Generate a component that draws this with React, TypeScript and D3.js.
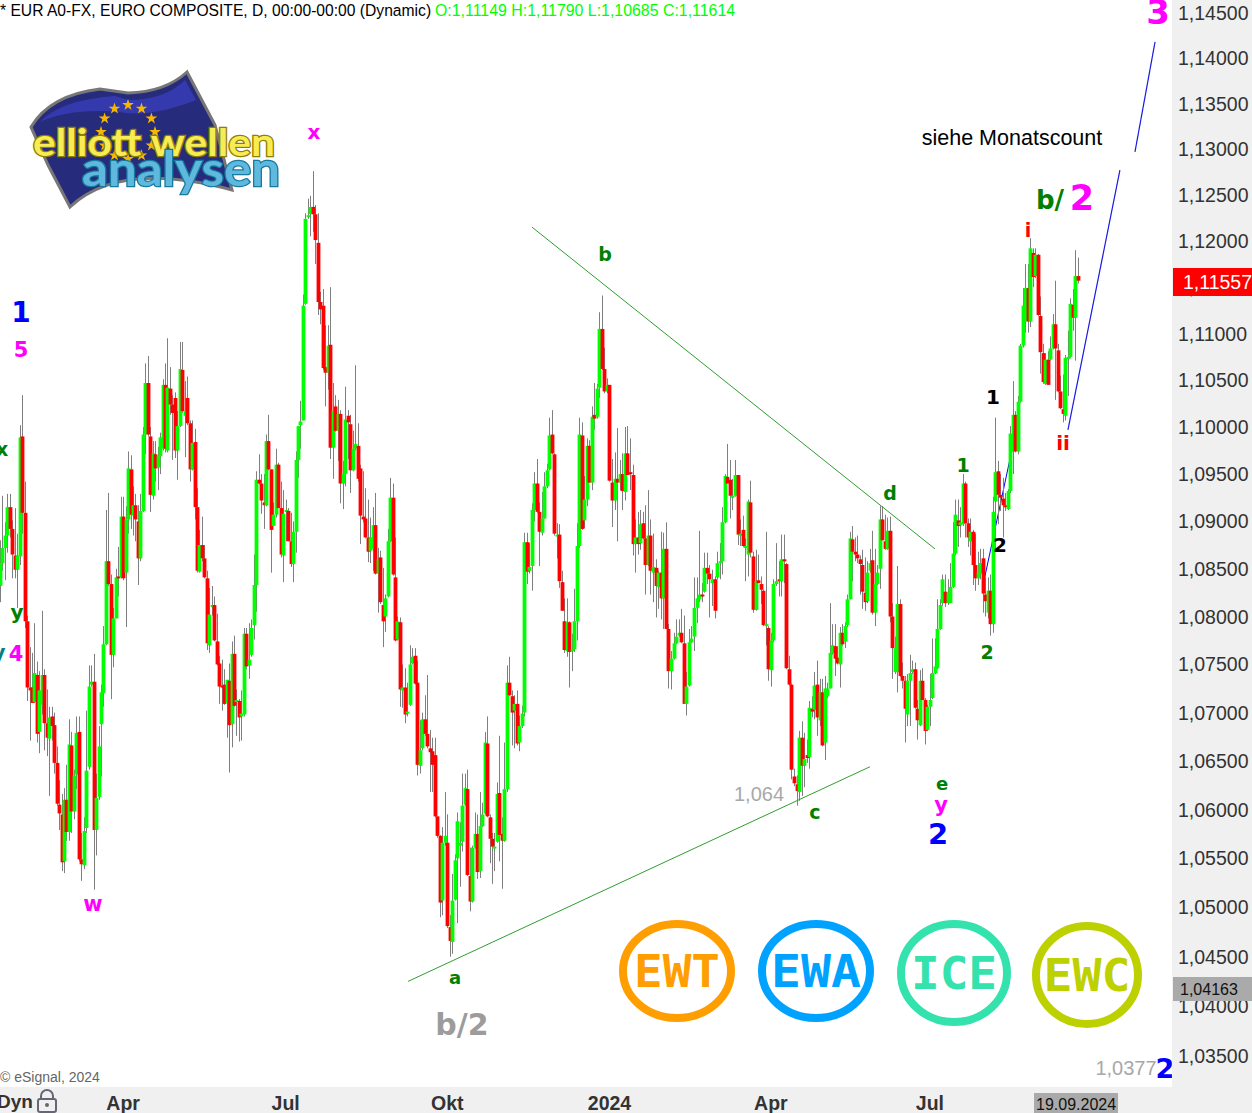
import React from "react";
import * as d3 from "d3";

// Daily EUR/USD candles, prices in 1/10000 units
const opens = [
10832,10856,10872,10885,10915,10892,10864,10849,10863,10990,10909,10795,10726,10726,10711,10739,10680,10708,10739,10689,
10673,10696,10687,10648,10605,10595,10547,10610,10577,10666,10598,10636,10680,10549,10543,10581,10644,10729,10732,10579,
10613,10688,10720,10771,10858,10834,10760,10798,10842,10841,10905,10846,10902,10955,10906,10917,10900,10861,10911,10992,
11047,10990,10927,10971,10957,10969,10977,11045,10975,11041,11024,11031,10975,11001,11061,11012,11031,11004,10955,10984,
10915,10847,10875,10861,10840,10770,10811,10812,10774,10751,10728,10729,10710,10733,10688,10761,10711,10712,10696,10698,
10782,10749,10760,10791,10833,10944,10940,10920,10917,10985,10955,10895,10907,10960,10914,10864,10911,10911,10879,10855,
10889,10965,
11002,11007,11132,11226,11229,11237,11229,11198,11134,11130,
11064,11058,11088,10978,11022,10996,11014,10940,10950,11012,
11003,10954,10977,10980,10956,10905,10903,10883,10869,10871,
10896,10845,10862,10812,10800,10821,10879,10925,10841,10776,
10794,10723,10726,10699,10708,10751,10759,10731,10645,10663,
10693,10678,10663,10660,10656,10593,10573,10507,10566,10566,
10480,10465,10508,10550,10563,10567,10605,10621,10532,10506,
10561,10575,10537,10583,10596,10668,10592,10570,10561,10567,
10617,10575,10568,10621,10731,10717,10702,10709,10669,10686,
10700,10878,10848,10853,10912,10940,10910,10888,10903,10937,
10955,10992,10971,10884,10886,10836,10795,10764,10794,10764,
10766,10795,10874,10991,10901,10923,10980,
10941,11013,11011,11042,11105,11062,11038,11045,10941,10922,
10945,10941,10950,10931,10972,10952,10949,10876,10883,10877,
10898,10882,10854,10885,10846,10851,10831,10846,10819,10871,
10787,10743,10756,10772,10780,10783,10772,10709,10728,10773,
10779,10809,10818,10823,10826,10851,10845,10835,10839,10841,
10856,10858,10899,10947,10944,10925,10927,10949,10886,10891,
10872,10865,10920,10863,10807,10838,10834,10827,10790,10788,
10744,10775,10834,10839,10837,10860,10855,10745,10729,10634,
10626,10618,10674,10645,10656,10654,10704,10703,10729,
10692,10721,10669,10717,10725,10762,10769,10757,10750,10783,
10774,10791,10818,10881,10868,10865,10860,10854,10825,10816,
10848,10859,10804,10834,10850,10902,10879,10871,10890,10800,
10742,10742,10813,10738,10733,10698,10733,10742,10745,10704,
10687,10733,10713,10682,10706,10715,10741,10746,10787,10814,
10826,10814,10814,10831,10866,10901,10896,10897,10940,10898,
10879,10889,10854,10840,10845,10861,10823,10804,10827,10792,
10921,10953,10928,10924,10917,10913,10932,10974,11013,10974,
11027,11087,11113,11149,11113,11187,11162,11185,11119,11079,
11046,11072,11072,11084,11110,11082,11038,11019,11012,11074,
11075,11131,11117,11162];

const highs = [
10880,10927,10899,10929,10929,10901,10914,10887,11002,11034,10942,10801,10768,10762,10793,10753,10743,10806,10745,10724,
10706,10706,10700,10665,10630,10616,10622,10646,10693,10680,10641,10696,10696,10576,10592,10702,10749,10749,10761,10637,
10686,10729,10790,10912,10930,10844,10809,10850,10873,10926,10926,10916,10974,10970,10937,10929,10917,10929,11000,11068,
11076,11000,10985,10985,10979,10994,11051,11068,11095,11064,11034,11037,11017,11091,11091,11049,11054,11007,11007,10998,
10935,10891,10905,10875,10848,10830,10832,10821,10803,10759,10755,10745,10734,10751,10774,10780,10724,10714,10723,10788,
10788,10793,10797,10865,10953,10971,10950,10950,10992,11013,10955,10920,10977,10962,10942,10933,10923,10914,10909,10900,
10974,11001,
11028,11142,11230,11246,11249,11276,11239,11230,11145,11148,
11109,11109,11150,11047,11034,11029,11018,10964,11043,11018,
11013,10996,11066,11004,10960,10953,10935,10923,10904,10915,
10930,10872,10869,10851,10823,10892,10946,10940,10883,10800,
10799,10750,10746,10731,10770,10767,10767,10754,10692,10700,
10718,10739,10682,10674,10674,10593,10574,10582,10618,10595,
10492,10534,10554,10597,10587,10637,10637,10641,10561,10563,
10597,10595,10618,10607,10680,10696,10595,10576,10576,10628,
10676,10592,10669,10749,10758,10723,10718,10723,10697,10707,
10888,10888,10877,10919,10952,10966,10920,10931,10952,10961,
11010,11018,10972,10898,10897,10848,10819,10819,10795,10782,
10829,10898,11010,11005,10948,10988,10986,
11022,11047,11046,11123,11141,11085,11052,11045,10966,10973,
10999,10965,10972,11000,11001,10988,10960,10902,10910,10912,
10910,10917,10933,10902,10887,10860,10848,10889,10888,10899,
10792,10764,10783,10797,10797,10808,10801,10742,10787,10790,
10841,10841,10890,10835,10867,10867,10854,10849,10842,10868,
10877,10915,10950,10982,10965,10945,10965,10949,10902,10906,
10882,10923,10943,10868,10870,10865,10842,10828,10889,10790,
10783,10839,10877,10858,10886,10886,10856,10759,10730,10642,
10635,10681,10691,10679,10672,10712,10717,10742,10754,
10735,10735,10738,10731,10814,10792,10792,10769,10789,10792,
10794,10823,10889,10895,10883,10885,10864,10870,10862,10858,
10871,10890,10871,10854,10916,10916,10907,10904,10905,10814,
10779,10853,10818,10752,10738,10740,10760,10754,10752,10713,
10744,10746,10715,10708,10740,10777,10777,10818,10818,10844,
10844,10839,10856,10899,10923,10923,10915,10950,10942,10903,
10903,10891,10887,10868,10871,10871,10841,10841,10844,10926,
11010,10964,10950,10946,10930,10934,11001,11049,11017,11033,
11089,11149,11175,11175,11203,11192,11192,11186,11140,11089,
11079,11081,11097,11121,11157,11089,11055,11056,11077,11103,
11138,11148,11190,11182];

const lows = [
10815,10848,10838,10867,10883,10840,10840,10809,10854,10887,10788,10712,10671,10710,10710,10669,10658,10698,10661,10655,
10614,10671,10637,10604,10579,10537,10535,10568,10568,10576,10590,10621,10547,10527,10539,10576,10641,10727,10518,10553,
10610,10634,10706,10770,10832,10714,10747,10798,10821,10840,10838,10789,10887,10892,10885,10879,10833,10858,10910,10971,
10990,10910,10923,10942,10933,10950,10975,10973,10973,11013,10965,10967,10944,11000,11015,10968,11002,10942,10954,10902,
10846,10846,10858,10840,10765,10762,10801,10774,10749,10709,10702,10708,10674,10638,10664,10706,10676,10670,10671,10696,
10745,10735,10758,10776,10805,10939,10908,10892,10916,10954,10846,10895,10904,10914,10862,10836,10879,10879,10852,10836,
10867,10946,
10977,11007,11131,11224,11205,11210,11175,11120,11110,11061,
11022,11040,10966,10945,10995,10964,10919,10913,10937,10966,
10930,10953,10975,10942,10876,10899,10882,10857,10856,10848,
10844,10804,10813,10768,10784,10820,10878,10843,10774,10775,
10706,10705,10689,10696,10707,10750,10729,10635,10637,10661,
10676,10663,10618,10618,10592,10571,10490,10492,10563,10479,
10450,10453,10507,10484,10521,10557,10604,10532,10496,10505,
10560,10529,10530,10582,10595,10592,10545,10524,10537,10566,
10547,10519,10567,10618,10717,10666,10663,10666,10660,10684,
10696,10834,10845,10827,10900,10909,10853,10885,10903,10935,
10954,10971,10885,10861,10830,10806,10762,10758,10726,10743,
10763,10775,10872,10891,10893,10916,10941,
10933,10997,11009,11031,11061,11036,11036,10942,10894,10912,
10879,10933,10912,10922,10949,10933,10864,10846,10865,10870,
10881,10823,10853,10823,10815,10799,10808,10797,10787,10787,
10725,10724,10755,10771,10779,10772,10709,10697,10727,10772,
10764,10793,10815,10815,10825,10834,10799,10811,10798,10839,
10839,10844,10898,10940,10903,10912,10926,10875,10874,10873,
10837,10842,10862,10804,10806,10835,10813,10790,10770,10733,
10727,10773,10832,10821,10821,10835,10745,10728,10631,10624,
10604,10609,10614,10623,10648,10642,10695,10693,10676,
10686,10665,10651,10715,10725,10760,10738,10750,10726,10769,
10767,10789,10818,10837,10858,10856,10823,10808,10806,10814,
10846,10802,10790,10833,10829,10880,10870,10870,10794,10735,
10740,10721,10737,10725,10669,10686,10686,10740,10704,10672,
10686,10713,10667,10681,10686,10714,10740,10745,10786,10811,
10810,10812,10814,10830,10864,10873,10883,10895,10883,10873,
10864,10833,10827,10833,10839,10804,10800,10798,10780,10783,
10871,10897,10911,10883,10911,10912,10930,10950,10973,10971,
11026,11085,11101,11101,11107,11150,11160,11119,11057,11046,
11045,11045,11071,11083,11029,11037,11019,11005,11007,11033,
11074,11103,11071,11154];

const closes = [
10856,10872,10885,10915,10892,10865,10849,10864,10989,10909,10795,10726,10723,10710,10741,10678,10723,10739,10689,10674,
10695,10686,10648,10606,10596,10546,10610,10577,10667,10598,10635,10679,10549,10544,10578,10640,10727,10732,10579,10612,
10665,10721,10771,10858,10834,10760,10798,10841,10840,10905,10840,10902,10956,10907,10917,10902,10861,10911,10992,11047,
10992,10928,10972,10956,10969,10989,11045,10977,11042,11024,11015,10975,11001,11062,11017,11017,11004,10955,10983,10915,
10848,10875,10861,10841,10772,10802,10812,10775,10750,10727,10726,10709,10734,10687,10761,10707,10713,10695,10699,10782,
10748,10755,10788,10833,10944,10940,10922,10917,10985,10955,10891,10907,10960,10914,10865,10908,10912,10879,10855,10889,
10965,11001,
11006,11130,11224,11228,11237,11229,11201,11134,11126,11063,
11058,11087,10978,11017,10996,11014,10940,10950,11008,11005,
10954,10977,10982,10945,10906,10902,10883,10868,10883,10896,
10845,10860,10815,10795,10819,10879,10925,10844,10775,10795,
10724,10726,10698,10701,10750,10758,10730,10646,10661,10693,
10678,10665,10659,10646,10593,10573,10505,10566,10573,10481,
10466,10507,10548,10588,10566,10604,10622,10533,10506,10561,
10575,10536,10583,10595,10669,10593,10570,10562,10562,10616,
10574,10568,10621,10731,10718,10700,10709,10668,10686,10699,
10878,10847,10852,10912,10940,10910,10889,10903,10937,10954,
10991,10972,10887,10886,10837,10806,10765,10794,10763,10766,
10795,10874,10992,10892,10923,10980,10941,
11011,11009,11041,11105,11062,11038,11045,10943,10922,10945,
10941,10950,10932,10972,10949,10950,10876,10883,10876,10897,
10882,10854,10885,10848,10852,10832,10846,10819,10871,10787,
10743,10756,10772,10779,10783,10773,10709,10727,10773,10777,
10809,10819,10823,10821,10851,10845,10839,10839,10806,10856,
10858,10899,10948,10940,10927,10927,10949,10886,10887,10874,
10874,10921,10867,10807,10837,10835,10828,10791,10792,10745,
10775,10834,10837,10837,10860,10858,10746,10729,10641,10627,
10619,10674,10645,10652,10653,10705,10701,10728,10695,
10721,10666,10725,10725,10762,10770,10756,10751,10783,10771,
10790,10818,10882,10868,10865,10861,10855,10826,10815,10846,
10856,10804,10834,10846,10902,10880,10871,10890,10800,10767,
10767,10813,10738,10733,10704,10733,10741,10745,10705,10692,
10733,10713,10681,10706,10713,10741,10748,10787,10812,10839,
10814,10825,10831,10866,10907,10895,10899,10940,10898,10883,
10889,10854,10840,10846,10856,10824,10816,10827,10792,10910,
10952,10928,10925,10917,10915,10932,10993,11013,10974,11027,
11087,11130,11149,11113,11192,11161,11185,11120,11080,11048,
11072,11045,11084,11110,11084,11038,11020,11014,11074,11075,
11132,11117,11162,11157];

// Price axis
const priceTicks = [1.035,1.04,1.045,1.05,1.055,1.06,1.065,1.07,1.075,1.08,1.085,1.09,1.095,1.1,1.105,1.11,1.115,1.12,1.125,1.13,1.135,1.14,1.145];
const monthLabels = ["Apr","Jul","Okt","2024","Apr","Jul"];
const monthBars = [50,116,181,246,309,372];

// Trend lines: [bar index, price]
const upperTriangleBars = [215.1,374];
const upperTrianglePrices = [1.1215,1.0871];
const lowerTriangleBars = [165.2,348.1];
const lowerTrianglePrices = [1.0425,1.0644];
const impulseBars = [393.5,407.5];
const impulsePrices = [1.0837,1.1011];
const forecastBarsA = [427,447.7];
const forecastPricesA = [1.0997,1.1277];
const forecastBarsB = [453.7,461.7];
const forecastPricesB = [1.1297,1.1418];

const W = 1252, H = 1113, PX = 1172, PY = 1087;
const y = d3.scaleLog().domain([1.035,1.145]).range([1056,13]);
const x = d3.scaleLinear().domain([0,121,238,327,431]).range([0,298,589,817,1078]);
const fmt = (v: number) => v.toFixed(5).replace(".", ",");
const SANS = "'Liberation Sans', Arial, sans-serif";
const BOLD = "'DejaVu Sans', Verdana, sans-serif";
const MONO = "'DejaVu Sans Mono', monospace";

type Lbl = [string, number, number, number, string];
const waveLabels: Lbl[] = [
  ["x",314,132,20,"#ff00ff"],["1",21,312,28,"#0000ff"],["5",21,350,21,"#ff00ff"],
  ["x",2,449,19,"#008000"],["y",17,612,20,"#008000"],["y",-1,652,20,"#008080"],["4",16,654,21,"#ff00ff"],
  ["w",93,904,21,"#ff00ff"],["a",455,977,18,"#008000"],["b",605,254,19,"#008000"],["c",815,812,19,"#008000"],
  ["d",890,493,19,"#008000"],["e",942,783,18,"#008000"],["y",941,805,21,"#ff00ff"],["2",938,834,29,"#0000ff"],
  ["1",963,465,19,"#008000"],["2",987,652,19,"#008000"],["1",993,397,20,"#000000"],["2",1000,545,20,"#000000"],
  ["i",1028,230,19,"#ff0000"],["ii",1063,443,20,"#ff0000"],["2",1082,198,35,"#ff00ff"],["3",1158,12,34,"#ff00ff"],
  ["2",1165,1068,27,"#0000ff"],
];
type Ring = [string, string, number, number, number, number, number];
const rings: Ring[] = [
  ["EWT","#ff9e00",677,971,54,47,86],["EWA","#00a2ff",816,971,54,47,90],
  ["ICE","#34e2ae",954,973,53,49,86],["EWC","#bdd000",1087,975,51,49,87],
];
const starAngles = d3.range(12).map(i => (i * Math.PI) / 6);

function line(bars: number[], prices: number[]) {
  return d3.line<number>().x((b) => x(b)).y((_, i) => y(prices[i]))(bars) as string;
}

function Logo() {
  const star = d3.symbol(d3.symbolStar, 42)() as string;
  return (
    <g>
      <path d="M31 127 Q50 95 100 89 L128 93 Q165 92 187 72 L215 125 L232 190 Q120 160 70 207 L48 165 Z" fill="#272b7c" stroke="#777" strokeWidth={3} />
      <path d="M40 122 Q60 100 115 96 L128 100 Q165 100 185 80 L196 100 Q150 118 120 112 Q70 108 40 122 Z" fill="#3a3fbe" opacity={0.75} />
      {starAngles.map((a, i) => (
        <path key={i} d={star} fill="#f5b800" transform={`translate(${128 + 27 * Math.cos(a)},${132 + 27 * Math.sin(a)})`} />
      ))}
      <text x={33} y={156} fontFamily="Lato, sans-serif" fontWeight={700} fontSize={38} textLength={242} lengthAdjust="spacingAndGlyphs"
        fill="#f7ec55" stroke="#8f8000" strokeWidth={2.5} paintOrder="stroke">elliott wellen</text>
      <text x={82} y={186} fontFamily="Lato, sans-serif" fontWeight={700} fontSize={48} textLength={198} lengthAdjust="spacingAndGlyphs"
        fill="#5fb9df" stroke="#177a9f" strokeWidth={2.5} paintOrder="stroke">analysen</text>
    </g>
  );
}

export default function App() {
  return (
    <svg width={W} height={H} viewBox={`0 0 ${W} ${H}`} style={{ position: "fixed", left: 0, top: 0, display: "block", background: "#fff" }}>
      <path d={line(impulseBars, impulsePrices)} stroke="#0000ff" fill="none" />
      <g fill="#7f7f7f">
        {closes.map((c, i) => (
          <rect key={i} x={Math.round(x(i))} width={1} y={y(highs[i] / 10000)} height={y(lows[i] / 10000) - y(highs[i] / 10000)} />
        ))}
      </g>
      <g>
        {closes.map((c, i) => {
          const top = y(Math.max(opens[i], c) / 10000);
          const bot = y(Math.min(opens[i], c) / 10000);
          return <rect key={i} x={Math.round(x(i)) - 1.4} width={3.8} y={top} height={Math.max(bot - top, 2)} fill={c >= opens[i] ? "#00ff00" : "#ff0000"} />;
        })}
      </g>
      <path d={line(upperTriangleBars, upperTrianglePrices)} stroke="#2f9e2f" fill="none" />
      <path d={line(lowerTriangleBars, lowerTrianglePrices)} stroke="#2f9e2f" fill="none" />
      <path d={line(forecastBarsA, forecastPricesA)} stroke="#1a1ae0" strokeWidth={1.2} fill="none" />
      <path d={line(forecastBarsB, forecastPricesB)} stroke="#1a1ae0" strokeWidth={1.2} fill="none" />

      <Logo />

      {waveLabels.map(([t, lx, ly, s, col], i) => (
        <text key={i} x={lx} y={ly} fontFamily={BOLD} fontWeight={700} fontSize={s} fill={col} textAnchor="middle" dominantBaseline="central">{t}</text>
      ))}
      <text x={1050} y={200} fontFamily={BOLD} fontWeight={700} fontSize={26} fill="#008000" textAnchor="middle" dominantBaseline="central">b/</text>
      <text x={462} y={1024} fontFamily={BOLD} fontWeight={700} fontSize={30} fill="#9c9c9c" textAnchor="middle" dominantBaseline="central">b/2</text>
      <text x={1012} y={138} fontFamily={SANS} fontSize={21.5} fill="#000" textAnchor="middle" dominantBaseline="central">siehe Monatscount</text>
      <text x={759} y={794} fontFamily={SANS} fontSize={20} fill="#a8a8a8" textAnchor="middle" dominantBaseline="central">1,064</text>
      <text x={1126} y={1068} fontFamily={SANS} fontSize={20} fill="#a8a8a8" textAnchor="middle" dominantBaseline="central">1,0377</text>

      {rings.map(([t, col, cx, cy, rx, ry, tw]) => (
        <g key={t}>
          <ellipse cx={cx} cy={cy} rx={rx} ry={ry} fill="none" stroke={col} strokeWidth={8} />
          <text x={cx - tw / 2} y={cy + 16} fontFamily={MONO} fontWeight={700} fontSize={44} fill={col} textLength={tw} lengthAdjust="spacingAndGlyphs">{t}</text>
        </g>
      ))}

      <text x={0} y={16} fontFamily={SANS} fontSize={15.65} fill="#000">* EUR A0-FX, EURO COMPOSITE, D, 00:00-00:00 (Dynamic)</text>
      <text x={435} y={16} fontFamily={SANS} fontSize={15.9} fill="#00ff00">O:1,11149 H:1,11790 L:1,10685 C:1,11614</text>
      <text x={0} y={1082} fontFamily={SANS} fontSize={14} fill="#666">© eSignal, 2024</text>

      <rect x={PX} y={0} width={W - PX} height={H} fill="#f0f0f0" />
      <rect x={0} y={PY} width={W} height={H - PY} fill="#f0f0f0" />
      {priceTicks.map((p) => (
        <text key={p} x={1178} y={y(p)} fontFamily={SANS} fontSize={19.5} fill="#333" dominantBaseline="central">{fmt(p)}</text>
      ))}
      <rect x={1173} y={268} width={79} height={28} fill="#ff0000" />
      <text x={1183} y={282} fontFamily={SANS} fontSize={19.5} fill="#fff" dominantBaseline="central">1,11557</text>
      <rect x={1173} y={977} width={79} height={24} fill="#aaaaaa" />
      <text x={1180} y={989} fontFamily={SANS} fontSize={16} fill="#111" dominantBaseline="central">1,04163</text>

      {monthLabels.map((m, i) => (
        <text key={i} x={x(monthBars[i])} y={1110} fontFamily={SANS} fontWeight={700} fontSize={19.5} fill="#333" textAnchor="middle">{m}</text>
      ))}
      <text x={-3} y={1108} fontFamily={SANS} fontWeight={700} fontSize={19} fill="#333">Dyn</text>
      <g fill="none" stroke="#667" strokeWidth={2}>
        <rect x={38} y={1099} width={18} height={13} rx={2} />
        <path d="M41 1099 V1096 a6 6 0 0 1 12 0 V1099" />
      </g>
      <circle cx={47} cy={1105} r={2} fill="#667" />
      <rect x={1034} y={1093} width={84} height={20} fill="#aaaaaa" />
      <text x={1036} y={1110} fontFamily={SANS} fontSize={16} fill="#111">19.09.2024</text>
    </svg>
  );
}
